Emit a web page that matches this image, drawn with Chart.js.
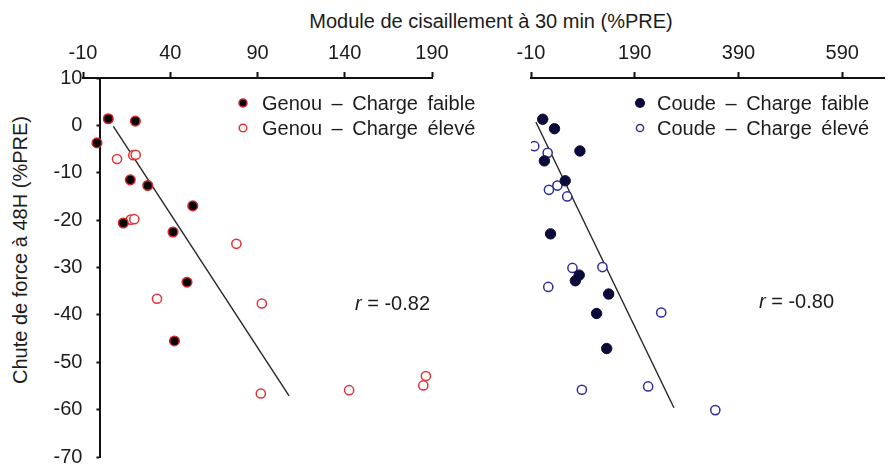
<!DOCTYPE html>
<html>
<head>
<meta charset="utf-8">
<script src="https://cdn.jsdelivr.net/npm/chart.js@4.4.1/dist/chart.umd.min.js"></script>
<style>
html,body{margin:0;padding:0;background:#fff;overflow:hidden}
#wrap{position:relative;width:891px;height:466px;font-family:'Liberation Sans',Arial,sans-serif;color:#1c1c1c}
#kneeBox{position:absolute;left:0;top:0;width:500px;height:466px}
#elbowBox{position:absolute;left:450px;top:0;width:441px;height:466px}
.title{position:absolute;font-size:20px;line-height:24px;white-space:nowrap;text-align:center}
#xTitle{left:291px;top:9px;width:400px}
#yTitle{left:-130px;top:238px;width:300px;transform:rotate(-90deg)}
</style>
</head>
<body>
<div id="wrap">
  <div class="title" id="xTitle">Module de cisaillement à 30 min (%PRE)</div>
  <div class="title" id="yTitle">Chute de force à 48H (%PRE)</div>
  <div id="kneeBox"><canvas id="kneeChart"></canvas></div>
  <div id="elbowBox"><canvas id="elbowChart"></canvas></div>
</div>
<script>
// ── data ───────────────────────────────────────────
const kneeLowX  = [4.5, 20, -2, 17.1, 27.1, 52.9, 13.1, 41.6, 49.6, 42.4];
const kneeLowY  = [1.4, 0.9, -3.7, -11.5, -12.7, -17.0, -20.6, -22.5, -33.1, -45.5];
const kneeHighX = [9.5, 18.8, 20.2, 17.4, 19.4, 77.9, 32.4, 92.5, 91.9, 142.5, 186.5, 185];
const kneeHighY = [-7.1, -6.3, -6.2, -19.9, -19.8, -25.0, -36.6, -37.6, -56.6, -55.9, -52.9, -54.9];
const kneeFitX  = [7.4, 108.1];
const kneeFitY  = [-0.2, -57.1];

const elbowLowX  = [12.6, 35.3, 84.3, 15.8, 56, 27.7, 83, 75.5, 139.7, 116.4, 135.9];
const elbowLowY  = [1.3, -0.7, -5.4, -7.5, -11.7, -22.9, -31.6, -32.8, -35.6, -39.7, -47.1];
const elbowHighX = [-3.7, 22.1, 40.9, 24.6, 59.8, 69.9, 127.7, 23.3, 241, 88.1, 215.8, 345.3];
const elbowHighY = [-4.4, -5.8, -12.7, -13.6, -15.0, -30.1, -29.9, -34.1, -39.5, -55.8, -55.1, -60.1];
const elbowFitX  = [-0.6, 265.5];
const elbowFitY  = [0.7, -59.6];

const kneeTicks  = [-10, 40, 90, 140, 190];
const elbowTicks = [-10, 190, 390, 590];
const kneeLabels  = ['Genou – Charge faible', 'Genou – Charge élevé'];
const elbowLabels = ['Coude – Charge faible', 'Coude – Charge élevé'];
const kneeR = '-0.82', elbowR = '-0.80';

const INK = '#1c1c1c', AXIS = '#111';
const FONT = "'Liberation Sans', Arial, sans-serif";
Chart.defaults.font.family = FONT;
Chart.defaults.color = INK;

const pts = (xs, ys) => xs.map((x, i) => ({x, y: ys[i]}));

// legend + r label drawn inside the plot
const notes = {
  id: 'notes',
  afterDatasetsDraw(chart, args, o) {
    const ctx = chart.ctx;
    ctx.save();
    ctx.font = '20px ' + FONT;
    ctx.textBaseline = 'middle';
    if ('wordSpacing' in ctx) ctx.wordSpacing = '4px';
    let y = o.legendY;
    chart.data.datasets.forEach(ds => {
      if (ds.fit) return;
      ctx.beginPath();
      ctx.arc(o.legendX, y, ds.legendR, 0, Math.PI * 2);
      ctx.fillStyle = ds.backgroundColor; ctx.fill();
      ctx.lineWidth = 1.5; ctx.strokeStyle = ds.borderColor; ctx.stroke();
      ctx.fillStyle = INK;
      ctx.fillText(ds.label, o.legendX + o.textGap, y + 1);
      y += o.rowGap;
    });
    if ('wordSpacing' in ctx) ctx.wordSpacing = '0px';
    ctx.textBaseline = 'alphabetic';
    ctx.font = 'italic 20px ' + FONT;
    ctx.fillText('r', o.rX, o.rY);
    const w = ctx.measureText('r').width;
    ctx.font = '20px ' + FONT;
    ctx.fillText(' = ' + o.r, o.rX + w, o.rY);
    ctx.restore();
  }
};

// move the y axis onto x = 0 (axis crosses there in the figure)
const yAtZero = {
  id: 'yAtZero',
  afterLayout(chart) {
    const y = chart.scales.y;
    if (!y.options.display) return;
    const px = chart.scales.x.getPixelForValue(0);
    const w = y.width;
    y.right = px; y.left = px - w;
  }
};

function xScale(ticks, min, max) {
  return {
    type: 'linear', position: 'top', min, max,
    afterBuildTicks: s => { s.ticks = ticks.map(v => ({value: v})); },
    afterFit: s => { s.height = 78; s.paddingLeft = 0; s.paddingRight = 0; },
    grid: {drawOnChartArea: false, tickLength: 6, tickWidth: 2, color: AXIS},
    border: {color: AXIS, width: 2},
    ticks: {font: {size: 20}, padding: 7, maxRotation: 0, autoSkip: false}
  };
}

function yScale(show) {
  return {
    type: 'linear', position: 'left', min: -70, max: 10, display: show,
    afterFit: s => { s.width = show ? 83 : 0; s.paddingTop = 0; s.paddingBottom = 0; },
    grid: {drawOnChartArea: false, tickLength: 4, tickWidth: 2, color: AXIS},
    border: {color: AXIS, width: 2},
    ticks: {stepSize: 10, font: {size: 20}, padding: 14}
  };
}

function panel(id, sets, xs, ys, opts) {
  return new Chart(document.getElementById(id), {
    type: 'scatter',
    data: {datasets: sets},
    options: {
      responsive: true, maintainAspectRatio: false, animation: false,
      layout: {padding: opts.pad},
      scales: {x: xs, y: ys},
      plugins: {legend: {display: false}, tooltip: {enabled: false}, notes: opts.notes}
    },
    plugins: [notes, yAtZero]
  });
}

// ── Genou ──────────────────────────────────────────
panel('kneeChart', [
  {label: kneeLabels[0], data: pts(kneeLowX, kneeLowY), backgroundColor: '#050505', borderColor: '#d8242a',
   borderWidth: 1.5, pointRadius: 4.8, legendR: 4, order: 1},
  {label: kneeLabels[1], data: pts(kneeHighX, kneeHighY), backgroundColor: '#ffffff', borderColor: '#e0323a',
   borderWidth: 1.5, pointRadius: 4.6, legendR: 3.8, order: 2},
  {label: 'fit', fit: true, data: pts(kneeFitX, kneeFitY), showLine: true, borderColor: '#262626',
   borderWidth: 1.4, pointRadius: 0, order: 3}
], xScale(kneeTicks, -10, 190), yScale(true), {
  pad: {left: 0, right: 68, top: 0, bottom: 9},
  notes: {legendX: 243, legendY: 103, rowGap: 25, textGap: 19, r: kneeR, rX: 355, rY: 310}
});

// ── Coude ──────────────────────────────────────────
panel('elbowChart', [
  {label: elbowLabels[0], data: pts(elbowLowX, elbowLowY), backgroundColor: '#0b0b3a', borderColor: '#0b0b3a',
   borderWidth: 1, pointRadius: 5.2, legendR: 4.3, order: 1},
  {label: elbowLabels[1], data: pts(elbowHighX, elbowHighY), backgroundColor: '#ffffff', borderColor: '#2e2e9c',
   borderWidth: 1.5, pointRadius: 4.6, legendR: 3.6, order: 2},
  {label: 'fit', fit: true, data: pts(elbowFitX, elbowFitY), showLine: true, borderColor: '#262626',
   borderWidth: 1.4, pointRadius: 0, order: 3}
], xScale(elbowTicks, -10, 672), yScale(false), {
  pad: {left: 81, right: 0, top: 0, bottom: 9},
  notes: {legendX: 190, legendY: 103, rowGap: 25, textGap: 17, r: elbowR, rX: 309, rY: 308}
});
</script>
</body>
</html>
